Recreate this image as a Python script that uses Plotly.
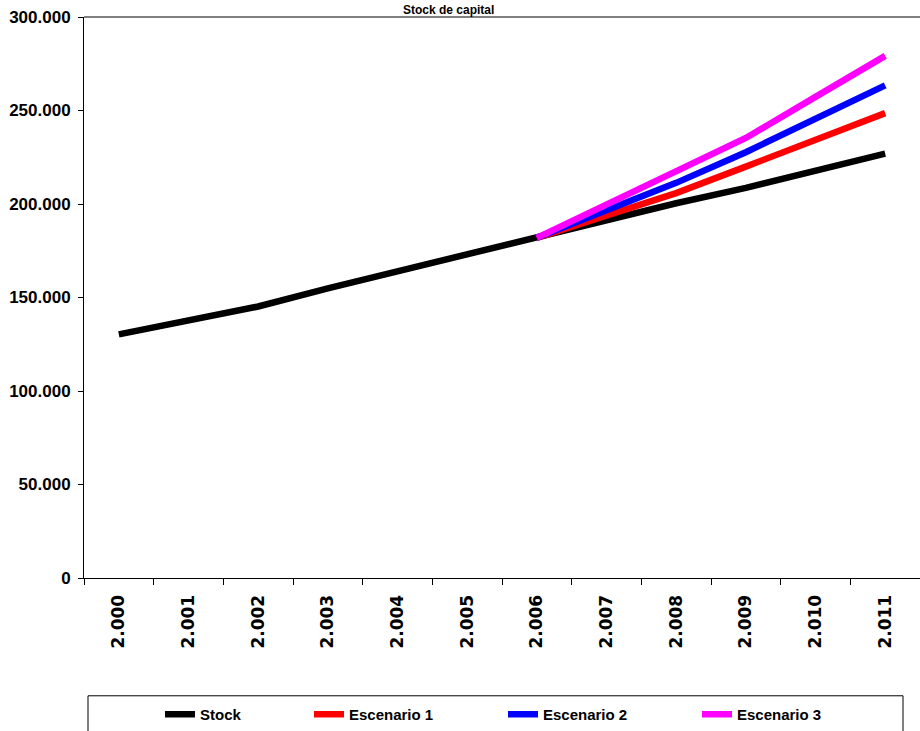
import plotly.graph_objects as go

years = ["2.000", "2.001", "2.002", "2.003", "2.004", "2.005",
         "2.006", "2.007", "2.008", "2.009", "2.010", "2.011"]
stock = [130300, 137900, 145200, 154900, 164000, 173000,
         181900, 191100, 200400, 208600, 217700, 226900]
escenario1 = [None, None, None, None, None, None,
              181900, 193800, 205800, 220000, 234300, 248600]
escenario2 = [None, None, None, None, None, None,
              181900, 196600, 211300, 227700, 245500, 263400]
escenario3 = [None, None, None, None, None, None,
              181900, 199700, 217500, 235300, 257300, 279200]
y_ticks = [0, 50000, 100000, 150000, 200000, 250000, 300000]

W, H = 920, 731
ML, MR, MT, MB = 84, 0, 17, 152
PW = W - ML - MR
PH = H - MT - MB


def px_x(p):
    return (p - ML) / PW


def px_y(p):
    return (H - MB - p) / PH


series = [
    ("Stock", stock, "#000000", "legend", 202),
    ("Escenario 1", escenario1, "#FF0000", "legend2", 351),
    ("Escenario 2", escenario2, "#0000FF", "legend3", 545),
    ("Escenario 3", escenario3, "#FF00FF", "legend4", 739),
]

fig = go.Figure()
for name, vals, color, lg, _ in series:
    fig.add_trace(go.Scatter(
        x=years, y=vals, name=name, mode="lines",
        line=dict(color=color, width=6.5),
        legend=lg, connectgaps=False,
    ))

legend_font = dict(family="Arial", size=15, color="#000000", weight="bold")
layout_legends = {}
for name, vals, color, lg, text_x in series:
    layout_legends[lg] = dict(
        x=px_x(text_x - 42), xanchor="left",
        y=px_y(716), yanchor="middle",
        orientation="h", bgcolor="rgba(0,0,0,0)",
        borderwidth=0, font=legend_font,
    )

fig.update_layout(
    width=W, height=H,
    margin=dict(l=ML, r=MR, t=MT, b=MB),
    paper_bgcolor="#FFFFFF", plot_bgcolor="#FFFFFF",
    separators=",.",
    showlegend=True,
    **layout_legends,
    xaxis=dict(
        type="category", range=[-0.5, 11.5],
        tickson="boundaries", ticks="outside", ticklen=6,
        tickcolor="#000000", showline=True, linecolor="#000000", linewidth=1,
        showgrid=False, tickangle=-90, ticklabelstandoff=9,
        tickfont=dict(family="DejaVu Sans", size=17, color="#000000", weight="bold"),
        fixedrange=True,
    ),
    yaxis=dict(
        range=[0, 300000], tickvals=y_ticks, tickformat=",.0f",
        ticks="outside", ticklen=5, tickcolor="#000000",
        showline=True, linecolor="#000000", linewidth=1,
        showgrid=False, zeroline=False, ticklabelstandoff=4,
        tickfont=dict(family="Arial", size=17, color="#000000", weight="bold"),
        fixedrange=True,
    ),
    shapes=[
        dict(type="line", xref="paper", yref="paper", x0=0, x1=1, y0=1, y1=1,
             line=dict(color="#000000", width=1)),
        dict(type="rect", xref="paper", yref="paper",
             x0=px_x(88), x1=px_x(903), y0=px_y(697), y1=px_y(760),
             line=dict(color="#000000", width=1)),
    ],
    annotations=[
        dict(text="Stock de capital", xref="paper", yref="paper",
             x=px_x(448), y=px_y(1), xanchor="center", yanchor="top",
             showarrow=False,
             font=dict(family="Arial", size=12, color="#000000", weight="bold")),
    ],
)

fig.write_html("out.html", config={"displayModeBar": False},
               post_script="document.body.style.margin='0';")
